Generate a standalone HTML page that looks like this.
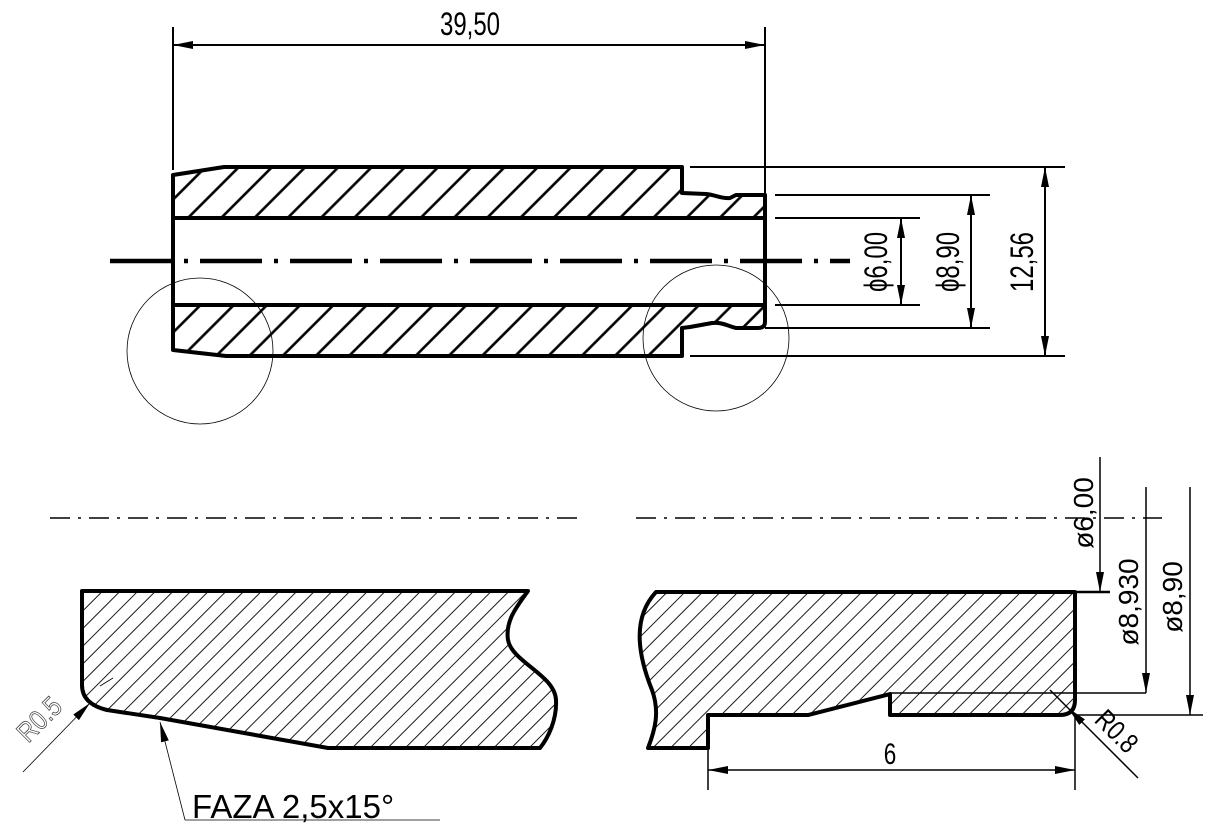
<!DOCTYPE html>
<html><head><meta charset="utf-8"><style>
html,body{margin:0;padding:0;background:#fff;}
svg{display:block;}
text{font-family:"Liberation Sans",sans-serif;}
</style></head><body>
<svg width="1215" height="836" viewBox="0 0 1215 836" xmlns="http://www.w3.org/2000/svg">
<defs>
<pattern id="hT" width="23.5" height="23.5" patternUnits="userSpaceOnUse" patternTransform="rotate(45)">
<line x1="5" y1="0" x2="5" y2="23.5" stroke="#000" stroke-width="2.6"/></pattern>
<pattern id="hB" width="12.5" height="12.5" patternUnits="userSpaceOnUse" patternTransform="rotate(45)">
<line x1="3" y1="0" x2="3" y2="12.5" stroke="#000" stroke-width="0.9"/></pattern>
<marker id="ar" viewBox="0 0 20 8" refX="20" refY="4" markerWidth="20" markerHeight="8" markerUnits="userSpaceOnUse" orient="auto-start-reverse">
<path d="M0,0 L20,4 L0,8 z" fill="#000"/></marker>
</defs>

<!-- TOP VIEW -->
<g stroke="#000" stroke-width="4" fill="url(#hT)" stroke-linejoin="round">
<path d="M173,218 L173,175 L224,167 L682,167 L682,193 L706,194 C716,195 722,199 730,198 L736,195 L765,195 L765,218 Z"/>
<path d="M173,305 L765,305 L765,322 Q765,328 758,328 L736,328 C728,326 722,322 712,323 L690,327 L682,328 L682,356 L226,356 L173,350 Z"/>
</g>
<line x1="173" y1="218" x2="173" y2="305" stroke="#000" stroke-width="4"/>
<line x1="765" y1="218" x2="765" y2="305" stroke="#000" stroke-width="4"/>
<line x1="110" y1="261" x2="850" y2="261" stroke="#000" stroke-width="4.5" stroke-dasharray="62,12,4,12"/>
<circle cx="200" cy="351" r="73" fill="none" stroke="#000" stroke-width="0.8"/>
<circle cx="716" cy="338" r="73" fill="none" stroke="#000" stroke-width="0.8"/>
<g stroke="#000" stroke-width="2">
<line x1="173" y1="27" x2="173" y2="170"/>
<line x1="765" y1="27" x2="765" y2="196"/>
<line x1="173" y1="45" x2="765" y2="45" marker-start="url(#ar)" marker-end="url(#ar)"/>
<line x1="690" y1="167" x2="1065" y2="167"/>
<line x1="690" y1="356" x2="1065" y2="356"/>
<line x1="775" y1="195" x2="990" y2="195"/>
<line x1="765" y1="328" x2="990" y2="328"/>
<line x1="775" y1="218" x2="920" y2="218"/>
<line x1="775" y1="305" x2="920" y2="305"/>
<line x1="901" y1="218" x2="901" y2="305" marker-start="url(#ar)" marker-end="url(#ar)"/>
<line x1="971" y1="195" x2="971" y2="328" marker-start="url(#ar)" marker-end="url(#ar)"/>
<line x1="1045" y1="167" x2="1045" y2="356" marker-start="url(#ar)" marker-end="url(#ar)"/>
</g>
<g font-size="32" fill="#000">
<text transform="translate(470,35) scale(0.75,1)" text-anchor="middle">39,50</text>
<text transform="translate(887,262) rotate(-90) scale(0.75,1)" text-anchor="middle">ϕ6,00</text>
<text transform="translate(959,262) rotate(-90) scale(0.75,1)" text-anchor="middle">ϕ8,90</text>
<text transform="translate(1033,262) rotate(-90) scale(0.75,1)" text-anchor="middle">12,56</text>
</g>

<!-- BOTTOM LEFT DETAIL -->
<line x1="50" y1="518" x2="578" y2="518" stroke="#000" stroke-width="1.5" stroke-dasharray="20,8,3,8"/>
<path d="M82,591 L528,591 C518,605 505,620 508,640 C512,662 555,675 556,700 C557,720 548,738 540,748 L328,748 L160,718 L107,710 Q82,704 82,685 Z" fill="url(#hB)" stroke="#000" stroke-width="4" stroke-linejoin="round"/>
<line x1="23" y1="772" x2="90" y2="703" stroke="#000" stroke-width="0.8" marker-end="url(#ar)"/>
<line x1="100" y1="686" x2="113" y2="678" stroke="#000" stroke-width="0.8"/>
<text transform="translate(46,726) rotate(-45) scale(0.85,1)" text-anchor="middle" font-size="28" fill="#fff" stroke="#444" stroke-width="0.8">R0.5</text>
<line x1="185" y1="820" x2="160" y2="722" stroke="#000" stroke-width="0.8" marker-end="url(#ar)"/>
<line x1="185" y1="820" x2="440" y2="820" stroke="#000" stroke-width="0.8"/>
<text x="192" y="818" font-size="33" fill="#000">FAZA 2,5x15°</text>

<!-- BOTTOM RIGHT DETAIL -->
<line x1="636" y1="518" x2="1162" y2="518" stroke="#000" stroke-width="1.5" stroke-dasharray="20,8,3,8"/>
<path d="M656,592 L1075,592 L1075,700 Q1075,715 1060,715 L890,715 L890,694 L808,715 L708,715 L708,748 L648,748 C655,730 660,712 652,690 C640,660 630,620 656,592 Z" fill="url(#hB)" stroke="#000" stroke-width="4" stroke-linejoin="round"/>
<g stroke="#000" stroke-width="1.5">
<line x1="1075" y1="592" x2="1110" y2="592" stroke-width="2.5"/>
<line x1="890" y1="693" x2="1146" y2="693"/>
<line x1="1075" y1="715" x2="1203" y2="715"/>
<line x1="1100" y1="457" x2="1100" y2="592" marker-end="url(#ar)"/>
<line x1="1146" y1="487" x2="1146" y2="693" marker-end="url(#ar)"/>
<line x1="1190" y1="487" x2="1190" y2="715" marker-end="url(#ar)"/>
<line x1="708" y1="748" x2="708" y2="790"/>
<line x1="1075" y1="715" x2="1075" y2="790"/>
<line x1="708" y1="770" x2="1075" y2="770" marker-start="url(#ar)" marker-end="url(#ar)"/>
<line x1="1138" y1="778" x2="1068" y2="708" marker-end="url(#ar)"/>
<line x1="1050" y1="690" x2="1068" y2="708"/>
</g>
<g font-size="28" fill="#000">
<text transform="translate(1093,513) rotate(-90)" text-anchor="middle">ø6,00</text>
<text transform="translate(1138,602) rotate(-90)" text-anchor="middle">ø8,930</text>
<text transform="translate(1182,597) rotate(-90)" text-anchor="middle">ø8,90</text>
<text transform="translate(890,764) scale(0.75,1)" text-anchor="middle" font-size="30">6</text>
<text transform="translate(1110,738) rotate(45) scale(0.8,1)" text-anchor="middle" font-size="28">R0.8</text>
</g>
</svg>
</body></html>
